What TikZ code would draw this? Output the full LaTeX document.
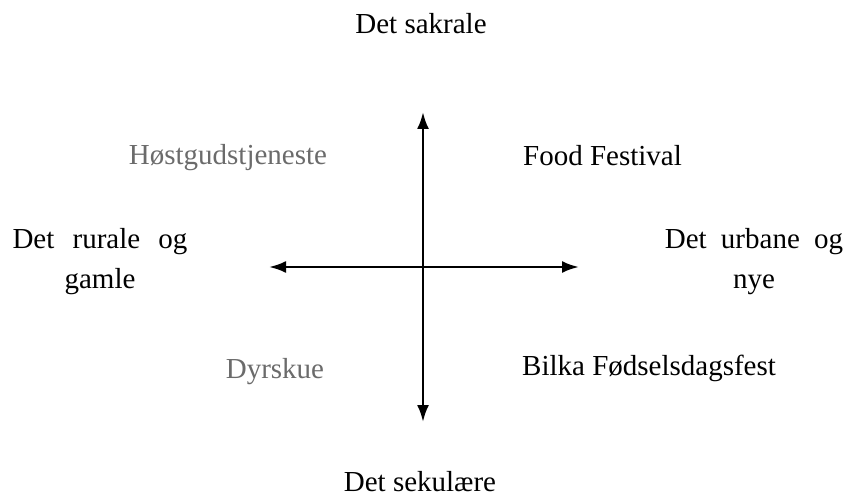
\documentclass[tikz,border=0pt]{standalone}
\usepackage{fontspec}
\setmainfont{Liberation Serif}
\usetikzlibrary{arrows.meta}
\definecolor{softgray}{gray}{0.42}
\tikzset{
  lbl/.style={font=\fontsize{29}{40}\selectfont, inner sep=0pt, align=center},
  glbl/.style={lbl, text=softgray},
  axis/.style={line width=2.6pt, -{Latex[length=17pt,width=12pt]}}
}
\begin{document}
\begin{tikzpicture}[x=1pt,y=-1pt]
\useasboundingbox (0,0) rectangle (849,497);
\coordinate (o) at (423,267);
\coordinate (top) at (423,112);
\coordinate (bot) at (423,422);
\coordinate (lft) at (269,267);
\coordinate (rgt) at (579,267);
\draw[axis] (o) -- (top);
\draw[axis] (o) -- (bot);
\draw[axis] (o) -- (lft);
\draw[axis] (o) -- (rgt);
\node[lbl] (sak) at (421,24) {Det sakrale};
\node[lbl] (sek) at (420,482) {Det sekulære};
\node[lbl] (rur) at (100,262) {Det\hspace{11pt} rurale\hspace{11pt} og\\gamle};
\node[lbl] (urb) at (754,262) {Det\hspace{7pt} urbane\hspace{7pt} og\\nye};
\node[glbl] (hos) at (228,158) {Høstgudstjeneste};
\node[lbl, anchor=west] (food) at (523,156) {Food Festival};
\node[glbl] (dyr) at (275,372) {Dyrskue};
\node[lbl, anchor=west] (bilka) at (522,368) {Bilka Fødselsdagsfest};
\end{tikzpicture}
\end{document}
